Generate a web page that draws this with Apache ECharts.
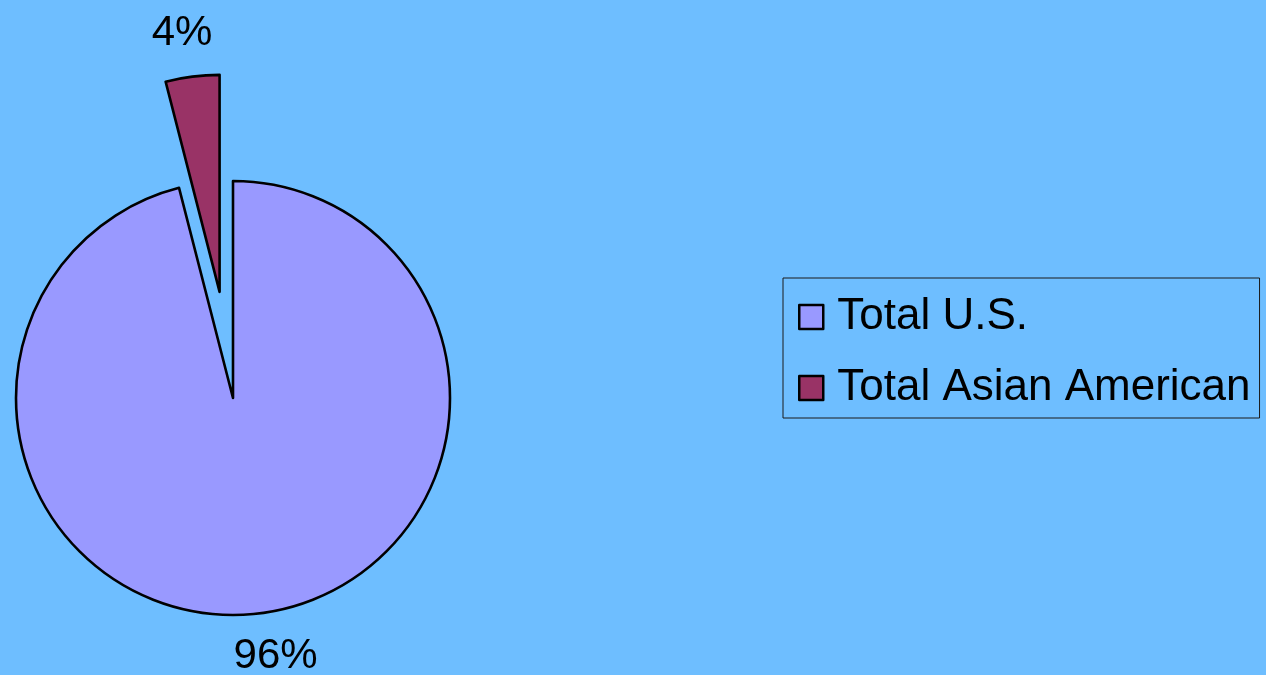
<!DOCTYPE html>
<html>
<head>
<meta charset="utf-8">
<script src="https://cdn.jsdelivr.net/npm/echarts@6/dist/echarts.min.js"></script>
<style>
html,body{margin:0;padding:0;background:#6EBEFF;}
#chart{width:1266px;height:675px;}
</style>
</head>
<body>
<div id="chart"></div>
<script>
const categories = ['Total U.S.', 'Total Asian American'];
const values = [96, 4];
const colors = ['#9999FF', '#993366'];

const chart = echarts.init(document.getElementById('chart'), null, {renderer: 'canvas'});
const FONT = '"Liberation Sans", Arial, sans-serif';

chart.setOption({
  backgroundColor: '#6EBEFF',
  animation: false,
  legend: {
    orient: 'vertical',
    left: 783,
    top: 278,
    padding: [17, 9, 8, 15],
    itemGap: 27,
    itemWidth: 24,
    itemHeight: 24,
    icon: 'rect',
    borderColor: '#1a1a1a',
    borderWidth: 1,
    backgroundColor: 'transparent',
    selectedMode: false,
    itemStyle: {borderColor: '#000', borderWidth: 2.5},
    textStyle: {fontFamily: FONT, fontSize: 44, color: '#000', padding: [0, 0, 0, 9]},
    data: categories
  },
  series: [{
    type: 'pie',
    center: [233, 398],
    radius: 217,
    startAngle: 90,
    clockwise: true,
    selectedMode: 'single',
    selectedOffset: 107,
    avoidLabelOverlap: false,
    itemStyle: {borderColor: '#000', borderWidth: 2.6},
    emphasis: {disabled: true},
    label: {
      show: true,
      position: 'outside',
      formatter: '{d}%',
      fontFamily: FONT,
      fontSize: 42,
      color: '#000'
    },
    labelLine: {show: false, length: 43, length2: 0},
    labelLayout: function (p) {
      return {align: 'center', verticalAlign: 'middle', dx: p.dataIndex === 0 ? 5 : 0};
    },
    data: categories.map((c, i) => ({
      name: c,
      value: values[i],
      selected: i === 1,
      itemStyle: {color: colors[i]}
    }))
  }]
});
</script>
</body>
</html>
